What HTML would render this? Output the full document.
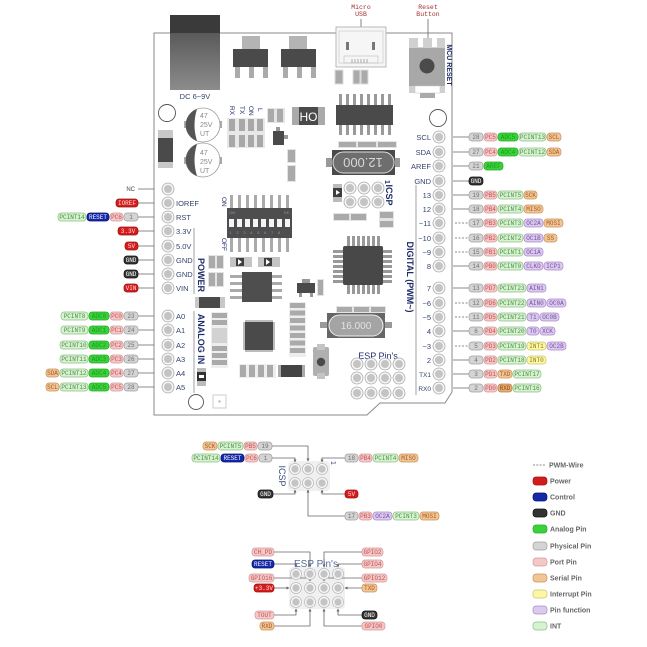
<!DOCTYPE html>
<html><head><meta charset="utf-8"><style>
html,body{margin:0;padding:0;background:#fff}
svg{display:block}
.P text{font-family:"Liberation Mono",monospace;font-size:6px;text-anchor:middle}
.P rect{stroke-width:.7}
rect.g{fill:#d4d4d4;stroke:#a0a0a0} text.g{fill:#707070}
rect.p{fill:#f5c8c8;stroke:#d09a9a} text.p{fill:#c05050}
rect.a{fill:#3ad23a;stroke:#28a828} text.a{fill:#1c9a1c}
rect.i{fill:#d6f2cf;stroke:#8cc084} text.i{fill:#4c8c4c}
rect.s{fill:#f2c596;stroke:#c8925a} text.s{fill:#a45a20}
rect.t{fill:#e6ad72;stroke:#b8804a} text.t{fill:#8a4a18}
rect.y{fill:#fbf7a2;stroke:#ccc470} text.y{fill:#8a7a24}
rect.f{fill:#dcc9ee;stroke:#a98bc9} text.f{fill:#7452a0}
rect.r{fill:#d41c1c;stroke:#9a1010} text.r{fill:#ffe0e0}
rect.b{fill:#1428aa;stroke:#0a1570} text.b{fill:#fff}
rect.k{fill:#333;stroke:#111} text.k{fill:#fff}
.lab{font-family:"Liberation Sans",sans-serif;font-size:7.5px;fill:#34446e}
.nav{font-family:"Liberation Sans",sans-serif;font-weight:bold;fill:#1e2d6a}
.nw{font-family:"Liberation Sans",sans-serif;font-weight:normal;fill:#1e2d6a}
.ln{stroke:#666;stroke-width:.8;fill:none}
.dl{stroke:#666;stroke-width:.8;stroke-dasharray:2 1.5;fill:none}
.leg{font-family:"Liberation Sans",sans-serif;font-size:7px;font-weight:bold;fill:#666}
</style></head><body>
<svg width="647" height="647" viewBox="0 0 647 647" xmlns="http://www.w3.org/2000/svg">
<defs>
<linearGradient id="dc" x1="0" y1="0" x2="0" y2="1"><stop offset="0" stop-color="#4a4a4a"/><stop offset="1" stop-color="#8c8c8c"/></linearGradient>
<g id="pin"><circle r="6" fill="#f6f6f6" stroke="#aaa" stroke-width=".8"/><circle r="4" fill="#c4c4c4"/></g>
<g id="spin"><circle r="5.5" fill="#fafafa" stroke="#bbb" stroke-width=".8"/><circle r="3.7" fill="#c4c4c4"/></g>
<marker id="ar" viewBox="0 0 6 6" refX="5" refY="3" markerWidth="4" markerHeight="4" orient="auto"><path d="M0,0L6,3L0,6z" fill="#666"/></marker>
</defs>

<!-- board outline -->
<path d="M154,33 H452 V392 L445,403 H380 L367,415 H154 Z" fill="#fff" stroke="#8a8a8a" stroke-width="1"/>

<!-- DC jack -->
<rect x="170" y="15" width="50" height="75" fill="url(#dc)"/>
<rect x="170" y="15" width="50" height="18" fill="#3a3a3a"/>
<text x="195" y="99" class="lab" font-size="7" text-anchor="middle">DC 6~9V</text>

<!-- regulators -->
<rect x="242" y="36" width="18" height="13" fill="#b4b4b4"/>
<rect x="233" y="49" width="35" height="18" fill="#4a4a4a"/>
<rect x="235" y="67" width="5" height="11" fill="#aaa"/><rect x="249" y="67" width="5" height="11" fill="#aaa"/><rect x="263" y="67" width="5" height="11" fill="#aaa"/>
<rect x="289" y="36" width="18" height="13" fill="#b4b4b4"/>
<rect x="281" y="49" width="35" height="18" fill="#4a4a4a"/>
<rect x="283" y="67" width="5" height="11" fill="#aaa"/><rect x="297" y="67" width="5" height="11" fill="#aaa"/><rect x="311" y="67" width="5" height="11" fill="#aaa"/>

<!-- micro USB -->
<text x="361" y="9" font-family="Liberation Mono,monospace" font-size="6.5" fill="#a03030" text-anchor="middle">Micro</text>
<text x="361" y="16" font-family="Liberation Mono,monospace" font-size="6.5" fill="#a03030" text-anchor="middle">USB</text>
<line x1="361" y1="19" x2="361" y2="27" class="ln"/>
<rect x="336" y="27" width="50" height="40" fill="#f6f6f6" stroke="#aaa" stroke-width=".8"/>
<rect x="339" y="31" width="44" height="32" fill="none" stroke="#ccc" stroke-width=".7"/>
<rect x="346" y="42" width="3" height="8" fill="#777"/><rect x="372" y="42" width="3" height="8" fill="#777"/>
<rect x="344" y="56" width="34" height="7" fill="none" stroke="#bbb" stroke-width=".6"/>
<path d="M352,59v4M355,59v4M358,59v4M361,59v4M364,59v4M367,59v4" stroke="#999" stroke-width=".8"/>
<rect x="335" y="70" width="8" height="14" fill="#aaa" stroke="#ddd"/>
<rect x="353" y="70" width="7" height="14" fill="#aaa" stroke="#ddd"/>
<rect x="361" y="70" width="7" height="14" fill="#aaa" stroke="#ddd"/>

<!-- Reset button -->
<text x="428" y="9" font-family="Liberation Mono,monospace" font-size="6.5" fill="#a03030" text-anchor="middle">Reset</text>
<text x="428" y="16" font-family="Liberation Mono,monospace" font-size="6.5" fill="#a03030" text-anchor="middle">Button</text>
<line x1="428" y1="19" x2="428" y2="38" class="ln"/>
<rect x="409" y="38" width="36" height="55" fill="#d0d0d0"/>
<rect x="418" y="38" width="5" height="9" fill="#fff"/><rect x="432" y="38" width="5" height="9" fill="#fff"/>
<rect x="409" y="48" width="36" height="38" fill="#a8a8a8"/>
<circle cx="427" cy="66" r="7.5" fill="#4a4a4a"/>
<rect x="415" y="86" width="25" height="7" fill="#fff" stroke="#ccc" stroke-width=".6"/>
<rect x="420" y="93" width="15" height="5" fill="#aaa"/>
<text transform="translate(447,65) rotate(90)" class="nav" font-size="7" text-anchor="middle">MCU RESET</text>

<!-- mount holes -->
<circle cx="167" cy="113" r="8.5" fill="#fff" stroke="#555" stroke-width=".9"/>
<circle cx="438" cy="118" r="8.5" fill="#fff" stroke="#555" stroke-width=".9"/>
<circle cx="196" cy="402" r="7.5" fill="#fff" stroke="#555" stroke-width=".9"/>
<rect x="213" y="395" width="13" height="13" fill="#fff" stroke="#ccc"/><circle cx="219.5" cy="401.5" r="1.2" fill="#bbb"/>

<!-- black rect left -->
<rect x="158" y="130" width="15" height="38" fill="#c8c8c8"/>
<rect x="158" y="138" width="15" height="24" fill="#4a4a4a"/>

<!-- capacitors -->
<rect x="184" y="121" width="4" height="7" fill="#aaa"/><rect x="218" y="121" width="4" height="7" fill="#aaa"/>
<circle cx="203" cy="125" r="17" fill="#fff" stroke="#999" stroke-width=".8"/>
<path d="M197,109 A17,17 0 0 0 197,141 Q192,125 197,109Z" fill="#555"/>
<text x="200" y="118" font-family="Liberation Sans,sans-serif" font-size="7" fill="#888">47</text>
<text x="200" y="127" font-family="Liberation Sans,sans-serif" font-size="7" fill="#888">25V</text>
<text x="200" y="136" font-family="Liberation Sans,sans-serif" font-size="7" fill="#888">UT</text>
<rect x="184" y="157" width="4" height="7" fill="#aaa"/><rect x="218" y="157" width="4" height="7" fill="#aaa"/>
<circle cx="203" cy="160" r="17" fill="#fff" stroke="#999" stroke-width=".8"/>
<path d="M197,144 A17,17 0 0 0 197,176 Q192,160 197,144Z" fill="#555"/>
<text x="200" y="155" font-family="Liberation Sans,sans-serif" font-size="7" fill="#888">47</text>
<text x="200" y="164" font-family="Liberation Sans,sans-serif" font-size="7" fill="#888">25V</text>
<text x="200" y="173" font-family="Liberation Sans,sans-serif" font-size="7" fill="#888">UT</text>

<!-- LEDs -->
<text transform="translate(230,106) rotate(90)" class="nw" font-size="6.5">RX</text>
<text transform="translate(240,106) rotate(90)" class="nw" font-size="6.5">TX</text>
<text transform="translate(249,106) rotate(90)" class="nw" font-size="6.5">ON</text>
<text transform="translate(258,108) rotate(90)" class="nw" font-size="6.5">L</text>
<rect x="227" y="118" width="38" height="30" fill="#e8e8e8"/>
<g fill="#a8a8a8"><rect x="229" y="119" width="6" height="12"/><rect x="239" y="119" width="6" height="12"/><rect x="248" y="119" width="6" height="12"/><rect x="257" y="119" width="6" height="12"/>
<rect x="229" y="135" width="6" height="12"/><rect x="239" y="135" width="6" height="12"/><rect x="248" y="135" width="6" height="12"/><rect x="257" y="135" width="6" height="12"/></g>
<rect x="267" y="108" width="18" height="15" fill="#e4e4e4"/><rect x="268" y="109" width="6" height="13" fill="#aaa"/><rect x="277" y="109" width="6" height="13" fill="#aaa"/>
<rect x="292" y="107" width="33" height="18" fill="#aaa"/><rect x="299" y="107" width="19" height="18" fill="#4a4a4a"/>
<text x="308.5" y="121" font-family="Liberation Sans,sans-serif" font-size="12" fill="#fff" text-anchor="middle">HO</text>
<rect x="276" y="127" width="4" height="4" fill="#999"/>
<rect x="273" y="131" width="11" height="14" fill="#4a4a4a"/>
<rect x="284" y="135" width="4" height="4" fill="#999"/>
<rect x="287" y="149" width="9" height="14" fill="#e4e4e4"/><rect x="288" y="150" width="7" height="12" fill="#aaa"/>
<rect x="287" y="165" width="9" height="17" fill="#e4e4e4"/><rect x="288" y="166" width="7" height="15" fill="#aaa"/>

<!-- USB-serial chip -->
<g fill="#9a9a9a"><rect x="339" y="94" width="3" height="11"/><rect x="346" y="94" width="3" height="11"/><rect x="353" y="94" width="3" height="11"/><rect x="360" y="94" width="3" height="11"/><rect x="367" y="94" width="3" height="11"/><rect x="374" y="94" width="3" height="11"/><rect x="381" y="94" width="3" height="11"/><rect x="388" y="94" width="3" height="11"/>
<rect x="339" y="125" width="3" height="10"/><rect x="346" y="125" width="3" height="10"/><rect x="353" y="125" width="3" height="10"/><rect x="360" y="125" width="3" height="10"/><rect x="367" y="125" width="3" height="10"/><rect x="374" y="125" width="3" height="10"/><rect x="381" y="125" width="3" height="10"/><rect x="388" y="125" width="3" height="10"/></g>
<rect x="336" y="105" width="57" height="20" fill="#4a4a4a"/>
<rect x="338" y="141" width="59" height="7" fill="#e4e4e4"/>
<g fill="#aaa"><rect x="339" y="142" width="17" height="5"/><rect x="358" y="142" width="18" height="5"/><rect x="378" y="142" width="18" height="5"/></g>

<!-- crystal 12.000 -->
<rect x="326" y="158" width="74" height="9" fill="#999"/>
<rect x="332" y="150" width="63" height="25" fill="#4a4a4a"/>
<rect x="333" y="152" width="61" height="21" rx="10.5" fill="#6e6e6e" stroke="#ddd" stroke-width="1"/>
<text transform="translate(363,162.5) rotate(180)" font-family="Liberation Sans,sans-serif" font-size="13" fill="#d8d8d8" text-anchor="middle" dominant-baseline="central">12.000</text>

<!-- ICSP on board -->
<rect x="333" y="184" width="9" height="18" fill="#bbb"/><rect x="333" y="188" width="9" height="9" fill="#3e3e3e"/><path d="M336,190 L340,192.5 L336,195Z" fill="#fff"/>
<use href="#pin" x="350" y="188"/><use href="#pin" x="364" y="188"/><use href="#pin" x="378" y="188"/>
<use href="#pin" x="350" y="202"/><use href="#pin" x="364" y="202"/><use href="#pin" x="378" y="202"/>
<text transform="translate(385,180) rotate(90)" class="nav" font-size="7">1</text>
<text transform="translate(386,195) rotate(90)" class="nav" font-size="9" text-anchor="middle">ICSP</text>
<rect x="333" y="213" width="34" height="8" fill="#e4e4e4"/><rect x="334" y="214" width="15" height="6" fill="#aaa"/><rect x="351" y="214" width="15" height="6" fill="#aaa"/>
<rect x="379" y="211" width="15" height="17" fill="#e4e4e4"/><rect x="380" y="212" width="13" height="6" fill="#aaa"/><rect x="380" y="221" width="13" height="6" fill="#aaa"/>

<!-- DIP switch -->
<g fill="#aaa"><rect x="230" y="195" width="3" height="13"/><rect x="238" y="195" width="3" height="13"/><rect x="246" y="195" width="3" height="13"/><rect x="254" y="195" width="3" height="13"/><rect x="262" y="195" width="3" height="13"/><rect x="270" y="195" width="3" height="13"/><rect x="278" y="195" width="3" height="13"/><rect x="286" y="195" width="3" height="13"/>
<rect x="230" y="238" width="3" height="14"/><rect x="238" y="238" width="3" height="14"/><rect x="246" y="238" width="3" height="14"/><rect x="254" y="238" width="3" height="14"/><rect x="262" y="238" width="3" height="14"/><rect x="270" y="238" width="3" height="14"/><rect x="278" y="238" width="3" height="14"/><rect x="286" y="238" width="3" height="14"/></g>
<rect x="227" y="208" width="65" height="30" fill="#4e4e4e"/>
<g fill="#f4f4f4"><rect x="229" y="219" width="5" height="8"/><rect x="237" y="219" width="5" height="8"/><rect x="245" y="219" width="5" height="8"/><rect x="253" y="219" width="5" height="8"/><rect x="261" y="219" width="5" height="8"/><rect x="269" y="219" width="5" height="8"/><rect x="277" y="219" width="5" height="8"/><rect x="285" y="219" width="5" height="8"/></g>
<text x="229" y="214" font-family="Liberation Sans,sans-serif" font-size="4" fill="#8890c0">ON</text>
<text x="284" y="214" font-family="Liberation Sans,sans-serif" font-size="4" fill="#8890c0">KE</text>
<text x="229.5" y="234" font-family="Liberation Sans,sans-serif" font-size="4" fill="#8890c0" letter-spacing="4.7">12345678</text>
<text transform="translate(222,197) rotate(90)" class="nw" font-size="6.5">ON</text>
<text transform="translate(222,238) rotate(90)" class="nw" font-size="6.5">OFF</text>

<!-- POWER / ANALOG brackets -->
<line x1="194" y1="228" x2="194" y2="294" stroke="#888" stroke-width=".8"/>
<text transform="translate(198,275) rotate(90)" class="nav" font-size="9" text-anchor="middle">POWER</text>
<rect x="195" y="297" width="30" height="11" fill="#c8c8c8"/><rect x="199" y="297" width="21" height="11" fill="#4a4a4a"/>
<line x1="194" y1="311" x2="194" y2="393" stroke="#888" stroke-width=".8"/>
<text transform="translate(198,339) rotate(90)" class="nav" font-size="9" text-anchor="middle">ANALOG IN</text>
<rect x="197" y="368" width="9" height="18" fill="#bbb"/><rect x="197" y="372" width="9" height="9" fill="#333"/><rect x="199" y="375" width="5" height="3" fill="#fff"/>

<!-- small parts near power -->
<rect x="208" y="255" width="16" height="14" fill="#e4e4e4"/><rect x="209" y="256" width="6" height="12" fill="#aaa"/><rect x="217" y="256" width="6" height="12" fill="#aaa"/>
<rect x="208" y="272" width="16" height="15" fill="#e4e4e4"/><rect x="209" y="273" width="6" height="13" fill="#aaa"/><rect x="217" y="273" width="6" height="13" fill="#aaa"/>
<rect x="230" y="257" width="22" height="10" fill="#c4c4c4"/><rect x="236" y="258" width="8" height="8" fill="#3e3e3e"/><path d="M238,259 L242,262 L238,265Z" fill="#fff"/>
<rect x="258" y="257" width="22" height="10" fill="#c4c4c4"/><rect x="264" y="258" width="8" height="8" fill="#3e3e3e"/><path d="M266,259 L270,262 L266,265Z" fill="#fff"/>
<g fill="#aaa"><rect x="230" y="275" width="12" height="3"/><rect x="230" y="282" width="12" height="3"/><rect x="230" y="289" width="12" height="3"/><rect x="230" y="296" width="12" height="3"/>
<rect x="272" y="275" width="10" height="3"/><rect x="272" y="282" width="10" height="3"/><rect x="272" y="289" width="10" height="3"/><rect x="272" y="296" width="10" height="3"/></g>
<rect x="242" y="272" width="30" height="30" fill="#4e4e4e"/>
<rect x="302" y="279" width="8" height="4" fill="#999"/>
<rect x="297" y="283" width="18" height="10" fill="#4a4a4a"/>
<rect x="299" y="293" width="3" height="4" fill="#999"/><rect x="310" y="293" width="3" height="4" fill="#999"/>
<rect x="317" y="279" width="7" height="17" fill="#e4e4e4"/><rect x="318" y="280" width="5" height="15" fill="#aaa"/>

<!-- MCU -->
<g fill="#999">
<rect x="347" y="236" width="3" height="10"/><rect x="352" y="236" width="3" height="10"/><rect x="357" y="236" width="3" height="10"/><rect x="362" y="236" width="3" height="10"/><rect x="367" y="236" width="3" height="10"/><rect x="372" y="236" width="3" height="10"/><rect x="377" y="236" width="3" height="10"/>
<rect x="347" y="285" width="3" height="9"/><rect x="352" y="285" width="3" height="9"/><rect x="357" y="285" width="3" height="9"/><rect x="362" y="285" width="3" height="9"/><rect x="367" y="285" width="3" height="9"/><rect x="372" y="285" width="3" height="9"/><rect x="377" y="285" width="3" height="9"/>
<rect x="333" y="250" width="10" height="3"/><rect x="333" y="255" width="10" height="3"/><rect x="333" y="260" width="10" height="3"/><rect x="333" y="265" width="10" height="3"/><rect x="333" y="270" width="10" height="3"/><rect x="333" y="275" width="10" height="3"/><rect x="333" y="280" width="10" height="3"/>
<rect x="383" y="250" width="9" height="3"/><rect x="383" y="255" width="9" height="3"/><rect x="383" y="260" width="9" height="3"/><rect x="383" y="265" width="9" height="3"/><rect x="383" y="270" width="9" height="3"/><rect x="383" y="275" width="9" height="3"/><rect x="383" y="280" width="9" height="3"/></g>
<rect x="343" y="246" width="40" height="39" rx="2" fill="#484848"/>

<!-- crystal 16.000 -->
<rect x="336" y="306" width="50" height="7" fill="#e4e4e4"/>
<g fill="#aaa"><rect x="337" y="307" width="15" height="5"/><rect x="354" y="307" width="15" height="5"/><rect x="371" y="307" width="14" height="5"/></g>
<rect x="320" y="322" width="72" height="6" fill="#999"/>
<rect x="327" y="313" width="58" height="25" fill="#666"/>
<rect x="329" y="315" width="54" height="21" rx="10.5" fill="#a4a4a4" stroke="#eee" stroke-width="1"/>
<text x="356" y="329" font-family="Liberation Sans,sans-serif" font-size="10" fill="#e2e2e2" text-anchor="middle">16.000</text>

<!-- small QFP -->
<rect x="245" y="322" width="28" height="28" fill="#4a4a4a"/>
<rect x="245" y="320" width="28" height="2" fill="#bbb"/><rect x="245" y="350" width="28" height="2" fill="#bbb"/>
<rect x="243" y="322" width="2" height="28" fill="#bbb"/><rect x="273" y="322" width="2" height="28" fill="#bbb"/>

<!-- vertical stacks -->
<rect x="289" y="302" width="17" height="55" fill="#eee"/>
<g fill="#aaa"><rect x="290" y="303" width="15" height="5"/><rect x="290" y="310.5" width="15" height="5"/><rect x="290" y="318" width="15" height="5"/><rect x="290" y="325.5" width="15" height="5"/><rect x="290" y="333" width="15" height="5"/><rect x="290" y="340.5" width="15" height="5"/><rect x="290" y="348" width="15" height="5"/></g>
<rect x="211" y="312" width="17" height="56" fill="#eee"/>
<g fill="#aaa"><rect x="212" y="313" width="15" height="5"/><rect x="212" y="320" width="15" height="5"/><rect x="212" y="346" width="15" height="5"/><rect x="212" y="353" width="15" height="5"/><rect x="212" y="360" width="15" height="5"/></g>
<rect x="212" y="328" width="15" height="15" fill="#d2d2d2"/>
<rect x="239" y="364" width="37" height="14" fill="#eee"/>
<g fill="#aaa"><rect x="240" y="365" width="6" height="12"/><rect x="249" y="365" width="6" height="12"/><rect x="258" y="365" width="6" height="12"/><rect x="267" y="365" width="6" height="12"/></g>
<rect x="278" y="365" width="27" height="12" fill="#aaa"/><rect x="281" y="365" width="21" height="12" fill="#444"/>
<rect x="313" y="347" width="16" height="29" rx="2" fill="#b0b0b0"/>
<rect x="317" y="344" width="8" height="35" fill="#c4c4c4"/>
<rect x="313" y="350" width="16" height="23" rx="2" fill="#b0b0b0"/>
<circle cx="321" cy="362" r="4.2" fill="#4a4a4a"/>

<!-- ESP pins on board -->
<text x="378" y="359" class="nw" font-size="9" text-anchor="middle">ESP Pin's</text>
<use href="#pin" x="357" y="364"/><use href="#pin" x="371" y="364"/><use href="#pin" x="385" y="364"/><use href="#pin" x="399" y="364"/>
<use href="#pin" x="357" y="378"/><use href="#pin" x="371" y="378"/><use href="#pin" x="385" y="378"/><use href="#pin" x="399" y="378"/>
<use href="#pin" x="357" y="393"/><use href="#pin" x="371" y="393"/><use href="#pin" x="385" y="393"/><use href="#pin" x="399" y="393"/>

<!-- DIGITAL bracket -->
<line x1="416" y1="185" x2="416" y2="395" stroke="#888" stroke-width=".8"/>
<text transform="translate(407,277) rotate(90)" class="nav" font-size="9" text-anchor="middle">DIGITAL  (PWM~)</text>

<!-- left header pins -->
<use href="#pin" x="168" y="189"/><use href="#pin" x="168" y="203"/><use href="#pin" x="168" y="217"/><use href="#pin" x="168" y="231"/>
<use href="#pin" x="168" y="246"/><use href="#pin" x="168" y="260"/><use href="#pin" x="168" y="274"/><use href="#pin" x="168" y="288"/>
<use href="#pin" x="168" y="316"/><use href="#pin" x="168" y="330"/><use href="#pin" x="168" y="345"/><use href="#pin" x="168" y="359"/>
<use href="#pin" x="168" y="373"/><use href="#pin" x="168" y="387"/>
<g class="lab">
<text x="176" y="206">IOREF</text><text x="176" y="220">RST</text><text x="176" y="234">3.3V</text><text x="176" y="249">5.0V</text>
<text x="176" y="263">GND</text><text x="176" y="277">GND</text><text x="176" y="291">VIN</text>
<text x="176" y="319">A0</text><text x="176" y="333">A1</text><text x="176" y="348">A2</text><text x="176" y="362">A3</text><text x="176" y="376">A4</text><text x="176" y="390">A5</text>
</g>

<!-- right header pins -->
<use href="#pin" x="439" y="137"/><use href="#pin" x="439" y="152"/><use href="#pin" x="439" y="166"/><use href="#pin" x="439" y="181"/>
<use href="#pin" x="439" y="195"/><use href="#pin" x="439" y="209"/><use href="#pin" x="439" y="223"/><use href="#pin" x="439" y="238"/>
<use href="#pin" x="439" y="252"/><use href="#pin" x="439" y="266"/>
<use href="#pin" x="439" y="288"/><use href="#pin" x="439" y="303"/><use href="#pin" x="439" y="317"/><use href="#pin" x="439" y="331"/>
<use href="#pin" x="439" y="346"/><use href="#pin" x="439" y="360"/><use href="#pin" x="439" y="374"/><use href="#pin" x="439" y="388"/>
<g class="lab" text-anchor="end">
<text x="431" y="140">SCL</text><text x="431" y="155">SDA</text><text x="431" y="169">AREF</text><text x="431" y="184">GND</text>
<text x="431" y="198">13</text><text x="431" y="212">12</text><text x="431" y="226">~11</text><text x="431" y="241">~10</text>
<text x="431" y="255">~9</text><text x="431" y="269">8</text>
<text x="431" y="291">7</text><text x="431" y="306">~6</text><text x="431" y="320">~5</text><text x="431" y="334">4</text>
<text x="431" y="349">~3</text><text x="431" y="363">2</text><text x="431" y="377" font-size="6.5">TX1</text><text x="431" y="391" font-size="6.5">RX0</text>
</g>

<!-- left connectors -->
<g class="ln">
<path d="M138,189H154M138,203H154M138,217H154M138,231H154M138,246H154M138,260H154M138,274H154M138,288H154M138,316H154M138,330H154M138,345H154M138,359H154M138,373H154M138,387H154"/>
</g>
<text x="135" y="191" font-family="Liberation Sans,sans-serif" font-size="6" fill="#444" text-anchor="end">NC</text>

<!-- right connectors -->
<path class="ln" d="M453,137H469M453,152H469M453,166H469M453,181H469M453,195H469M453,209H469M453,266H469M453,288H469M453,331H469M453,360H469M453,374H469M453,388H469"/>
<path class="dl" d="M455,223H469M455,238H469M455,252H469M455,303H469M455,317H469M455,346H469"/>

<!-- left pills -->
<g class="P">
<rect class="r" x="116" y="199" width="22" height="8" rx="3"/><text class="r" x="127" y="205">IOREF</text>
<rect class="i" x="58" y="213" width="28" height="8" rx="3"/><text class="i" x="72" y="219">PCINT14</text>
<rect class="b" x="87" y="213" width="22" height="8" rx="3"/><text class="b" x="98" y="219">RESET</text>
<rect class="p" x="110" y="213" width="13" height="8" rx="3"/><text class="p" x="116.5" y="219">PC6</text>
<rect class="g" x="124" y="213" width="14" height="8" rx="3"/><text class="g" x="131" y="219">1</text>
<rect class="r" x="118" y="227" width="20" height="8" rx="3"/><text class="r" x="128" y="233">3.3V</text>
<rect class="r" x="125" y="242" width="13" height="8" rx="3"/><text class="r" x="131.5" y="248">5V</text>
<rect class="k" x="124" y="256" width="14" height="8" rx="3"/><text class="k" x="131" y="262">GND</text>
<rect class="k" x="124" y="270" width="14" height="8" rx="3"/><text class="k" x="131" y="276">GND</text>
<rect class="r" x="124" y="284" width="14" height="8" rx="3"/><text class="r" x="131" y="290">VIN</text>

<rect class="i" x="61" y="312" width="27" height="8" rx="3"/><text class="i" x="74.5" y="318">PCINT8</text>
<rect class="a" x="89" y="312" width="20" height="8" rx="3"/><text class="a" x="99" y="318">ADC0</text>
<rect class="p" x="110" y="312" width="13" height="8" rx="3"/><text class="p" x="116.5" y="318">PC0</text>
<rect class="g" x="124" y="312" width="14" height="8" rx="3"/><text class="g" x="131" y="318">23</text>

<rect class="i" x="61" y="326" width="27" height="8" rx="3"/><text class="i" x="74.5" y="332">PCINT9</text>
<rect class="a" x="89" y="326" width="20" height="8" rx="3"/><text class="a" x="99" y="332">ADC1</text>
<rect class="p" x="110" y="326" width="13" height="8" rx="3"/><text class="p" x="116.5" y="332">PC1</text>
<rect class="g" x="124" y="326" width="14" height="8" rx="3"/><text class="g" x="131" y="332">24</text>

<rect class="i" x="60" y="341" width="28" height="8" rx="3"/><text class="i" x="74" y="347">PCINT10</text>
<rect class="a" x="89" y="341" width="20" height="8" rx="3"/><text class="a" x="99" y="347">ADC2</text>
<rect class="p" x="110" y="341" width="13" height="8" rx="3"/><text class="p" x="116.5" y="347">PC2</text>
<rect class="g" x="124" y="341" width="14" height="8" rx="3"/><text class="g" x="131" y="347">25</text>

<rect class="i" x="60" y="355" width="28" height="8" rx="3"/><text class="i" x="74" y="361">PCINT11</text>
<rect class="a" x="89" y="355" width="20" height="8" rx="3"/><text class="a" x="99" y="361">ADC3</text>
<rect class="p" x="110" y="355" width="13" height="8" rx="3"/><text class="p" x="116.5" y="361">PC3</text>
<rect class="g" x="124" y="355" width="14" height="8" rx="3"/><text class="g" x="131" y="361">26</text>

<rect class="s" x="46" y="369" width="13" height="8" rx="3"/><text class="s" x="52.5" y="375">SDA</text>
<rect class="i" x="60" y="369" width="28" height="8" rx="3"/><text class="i" x="74" y="375">PCINT12</text>
<rect class="a" x="89" y="369" width="20" height="8" rx="3"/><text class="a" x="99" y="375">ADC4</text>
<rect class="p" x="110" y="369" width="13" height="8" rx="3"/><text class="p" x="116.5" y="375">PC4</text>
<rect class="g" x="124" y="369" width="14" height="8" rx="3"/><text class="g" x="131" y="375">27</text>

<rect class="s" x="46" y="383" width="13" height="8" rx="3"/><text class="s" x="52.5" y="389">SCL</text>
<rect class="i" x="60" y="383" width="28" height="8" rx="3"/><text class="i" x="74" y="389">PCINT13</text>
<rect class="a" x="89" y="383" width="20" height="8" rx="3"/><text class="a" x="99" y="389">ADC5</text>
<rect class="p" x="110" y="383" width="13" height="8" rx="3"/><text class="p" x="116.5" y="389">PC5</text>
<rect class="g" x="124" y="383" width="14" height="8" rx="3"/><text class="g" x="131" y="389">28</text>
</g>

<!-- right pills -->
<g class="P">
<rect class="g" x="469" y="133" width="14" height="8" rx="3"/><text class="g" x="476" y="139">28</text>
<rect class="p" x="484" y="133" width="13" height="8" rx="3"/><text class="p" x="490.5" y="139">PC5</text>
<rect class="a" x="498" y="133" width="20" height="8" rx="3"/><text class="a" x="508" y="139">ADC5</text>
<rect class="i" x="519" y="133" width="27" height="8" rx="3"/><text class="i" x="532.5" y="139">PCINT13</text>
<rect class="s" x="547" y="133" width="14" height="8" rx="3"/><text class="s" x="554" y="139">SCL</text>

<rect class="g" x="469" y="148" width="14" height="8" rx="3"/><text class="g" x="476" y="154">27</text>
<rect class="p" x="484" y="148" width="13" height="8" rx="3"/><text class="p" x="490.5" y="154">PC4</text>
<rect class="a" x="498" y="148" width="20" height="8" rx="3"/><text class="a" x="508" y="154">ADC4</text>
<rect class="i" x="519" y="148" width="27" height="8" rx="3"/><text class="i" x="532.5" y="154">PCINT12</text>
<rect class="s" x="547" y="148" width="14" height="8" rx="3"/><text class="s" x="554" y="154">SDA</text>

<rect class="g" x="469" y="162" width="14" height="8" rx="3"/><text class="g" x="476" y="168">21</text>
<rect class="a" x="484" y="162" width="19" height="8" rx="3"/><text class="a" x="493.5" y="168">AREF</text>

<rect class="k" x="469" y="177" width="14" height="8" rx="3"/><text class="k" x="476" y="183">GND</text>

<rect class="g" x="469" y="191" width="14" height="8" rx="3"/><text class="g" x="476" y="197">19</text>
<rect class="p" x="484" y="191" width="13" height="8" rx="3"/><text class="p" x="490.5" y="197">PB5</text>
<rect class="i" x="498" y="191" width="25" height="8" rx="3"/><text class="i" x="510.5" y="197">PCINT5</text>
<rect class="s" x="524" y="191" width="13" height="8" rx="3"/><text class="s" x="530.5" y="197">SCK</text>

<rect class="g" x="469" y="205" width="14" height="8" rx="3"/><text class="g" x="476" y="211">18</text>
<rect class="p" x="484" y="205" width="13" height="8" rx="3"/><text class="p" x="490.5" y="211">PB4</text>
<rect class="i" x="498" y="205" width="25" height="8" rx="3"/><text class="i" x="510.5" y="211">PCINT4</text>
<rect class="s" x="524" y="205" width="19" height="8" rx="3"/><text class="s" x="533.5" y="211">MISO</text>

<rect class="g" x="469" y="219" width="14" height="8" rx="3"/><text class="g" x="476" y="225">17</text>
<rect class="p" x="484" y="219" width="13" height="8" rx="3"/><text class="p" x="490.5" y="225">PB3</text>
<rect class="i" x="498" y="219" width="25" height="8" rx="3"/><text class="i" x="510.5" y="225">PCINT3</text>
<rect class="f" x="524" y="219" width="19" height="8" rx="3"/><text class="f" x="533.5" y="225">OC2A</text>
<rect class="s" x="544" y="219" width="19" height="8" rx="3"/><text class="s" x="553.5" y="225">MOSI</text>

<rect class="g" x="469" y="234" width="14" height="8" rx="3"/><text class="g" x="476" y="240">16</text>
<rect class="p" x="484" y="234" width="13" height="8" rx="3"/><text class="p" x="490.5" y="240">PB2</text>
<rect class="i" x="498" y="234" width="25" height="8" rx="3"/><text class="i" x="510.5" y="240">PCINT2</text>
<rect class="f" x="524" y="234" width="19" height="8" rx="3"/><text class="f" x="533.5" y="240">OC1B</text>
<rect class="s" x="544" y="234" width="13" height="8" rx="3"/><text class="s" x="550.5" y="240">SS</text>

<rect class="g" x="469" y="248" width="14" height="8" rx="3"/><text class="g" x="476" y="254">15</text>
<rect class="p" x="484" y="248" width="13" height="8" rx="3"/><text class="p" x="490.5" y="254">PB1</text>
<rect class="i" x="498" y="248" width="25" height="8" rx="3"/><text class="i" x="510.5" y="254">PCINT1</text>
<rect class="f" x="524" y="248" width="19" height="8" rx="3"/><text class="f" x="533.5" y="254">OC1A</text>

<rect class="g" x="469" y="262" width="14" height="8" rx="3"/><text class="g" x="476" y="268">14</text>
<rect class="p" x="484" y="262" width="13" height="8" rx="3"/><text class="p" x="490.5" y="268">PB0</text>
<rect class="i" x="498" y="262" width="25" height="8" rx="3"/><text class="i" x="510.5" y="268">PCINT0</text>
<rect class="f" x="524" y="262" width="19" height="8" rx="3"/><text class="f" x="533.5" y="268">CLKO</text>
<rect class="f" x="544" y="262" width="19" height="8" rx="3"/><text class="f" x="553.5" y="268">ICP1</text>

<rect class="g" x="469" y="284" width="14" height="8" rx="3"/><text class="g" x="476" y="290">13</text>
<rect class="p" x="484" y="284" width="13" height="8" rx="3"/><text class="p" x="490.5" y="290">PD7</text>
<rect class="i" x="498" y="284" width="28" height="8" rx="3"/><text class="i" x="512" y="290">PCINT23</text>
<rect class="f" x="527" y="284" width="19" height="8" rx="3"/><text class="f" x="536.5" y="290">AIN1</text>

<rect class="g" x="469" y="299" width="14" height="8" rx="3"/><text class="g" x="476" y="305">12</text>
<rect class="p" x="484" y="299" width="13" height="8" rx="3"/><text class="p" x="490.5" y="305">PD6</text>
<rect class="i" x="498" y="299" width="28" height="8" rx="3"/><text class="i" x="512" y="305">PCINT22</text>
<rect class="f" x="527" y="299" width="19" height="8" rx="3"/><text class="f" x="536.5" y="305">AIN0</text>
<rect class="f" x="547" y="299" width="19" height="8" rx="3"/><text class="f" x="556.5" y="305">OC0A</text>

<rect class="g" x="469" y="313" width="14" height="8" rx="3"/><text class="g" x="476" y="319">11</text>
<rect class="p" x="484" y="313" width="13" height="8" rx="3"/><text class="p" x="490.5" y="319">PD5</text>
<rect class="i" x="498" y="313" width="28" height="8" rx="3"/><text class="i" x="512" y="319">PCINT21</text>
<rect class="f" x="527" y="313" width="12" height="8" rx="3"/><text class="f" x="533" y="319">T1</text>
<rect class="f" x="540" y="313" width="19" height="8" rx="3"/><text class="f" x="549.5" y="319">OC0B</text>

<rect class="g" x="469" y="327" width="14" height="8" rx="3"/><text class="g" x="476" y="333">6</text>
<rect class="p" x="484" y="327" width="13" height="8" rx="3"/><text class="p" x="490.5" y="333">PD4</text>
<rect class="i" x="498" y="327" width="28" height="8" rx="3"/><text class="i" x="512" y="333">PCINT20</text>
<rect class="f" x="527" y="327" width="12" height="8" rx="3"/><text class="f" x="533" y="333">T0</text>
<rect class="f" x="540" y="327" width="15" height="8" rx="3"/><text class="f" x="547.5" y="333">XCK</text>

<rect class="g" x="469" y="342" width="14" height="8" rx="3"/><text class="g" x="476" y="348">5</text>
<rect class="p" x="484" y="342" width="13" height="8" rx="3"/><text class="p" x="490.5" y="348">PD3</text>
<rect class="i" x="498" y="342" width="28" height="8" rx="3"/><text class="i" x="512" y="348">PCINT19</text>
<rect class="y" x="527" y="342" width="19" height="8" rx="3"/><text class="y" x="536.5" y="348">INT1</text>
<rect class="f" x="547" y="342" width="19" height="8" rx="3"/><text class="f" x="556.5" y="348">OC2B</text>

<rect class="g" x="469" y="356" width="14" height="8" rx="3"/><text class="g" x="476" y="362">4</text>
<rect class="p" x="484" y="356" width="13" height="8" rx="3"/><text class="p" x="490.5" y="362">PD2</text>
<rect class="i" x="498" y="356" width="28" height="8" rx="3"/><text class="i" x="512" y="362">PCINT18</text>
<rect class="y" x="527" y="356" width="19" height="8" rx="3"/><text class="y" x="536.5" y="362">INT0</text>

<rect class="g" x="469" y="370" width="14" height="8" rx="3"/><text class="g" x="476" y="376">3</text>
<rect class="p" x="484" y="370" width="13" height="8" rx="3"/><text class="p" x="490.5" y="376">PD1</text>
<rect class="s" x="498" y="370" width="14" height="8" rx="3"/><text class="s" x="505" y="376">TXD</text>
<rect class="i" x="513" y="370" width="28" height="8" rx="3"/><text class="i" x="527" y="376">PCINT17</text>

<rect class="g" x="469" y="384" width="14" height="8" rx="3"/><text class="g" x="476" y="390">2</text>
<rect class="p" x="484" y="384" width="13" height="8" rx="3"/><text class="p" x="490.5" y="390">PD0</text>
<rect class="t" x="498" y="384" width="14" height="8" rx="3"/><text class="t" x="505" y="390">RXD</text>
<rect class="i" x="513" y="384" width="28" height="8" rx="3"/><text class="i" x="527" y="390">PCINT16</text>
</g>

<!-- ICSP detail -->
<rect x="288" y="461" width="42" height="30" rx="4" fill="#f0f0f0"/>
<use href="#spin" x="295" y="469"/><use href="#spin" x="308" y="469"/><use href="#spin" x="322" y="469"/>
<use href="#spin" x="295" y="483"/><use href="#spin" x="308" y="483"/><use href="#spin" x="322" y="483"/>
<text transform="translate(279,476) rotate(90)" font-family="Liberation Sans,sans-serif" font-size="9" fill="#3a4a7a" text-anchor="middle">ICSP</text>
<text transform="translate(331,461) rotate(90)" font-family="Liberation Sans,sans-serif" font-size="7" fill="#3a4a7a">1</text>
<g class="ln">
<path d="M272,446H308V461" marker-end="url(#ar)"/>
<path d="M272,458H295V462" marker-end="url(#ar)"/>
<path d="M345,458H322V462" marker-end="url(#ar)"/>
<path d="M273,494H295V490" marker-end="url(#ar)"/>
<path d="M345,494H322V490" marker-end="url(#ar)"/>
<path d="M345,516H308V490" marker-end="url(#ar)"/>
</g>
<g class="P">
<rect class="s" x="203" y="442" width="14" height="8" rx="3"/><text class="s" x="210" y="448">SCK</text>
<rect class="i" x="218" y="442" width="25" height="8" rx="3"/><text class="i" x="230.5" y="448">PCINT5</text>
<rect class="p" x="244" y="442" width="13" height="8" rx="3"/><text class="p" x="250.5" y="448">PB5</text>
<rect class="g" x="258" y="442" width="14" height="8" rx="3"/><text class="g" x="265" y="448">19</text>

<rect class="i" x="192" y="454" width="28" height="8" rx="3"/><text class="i" x="206" y="460">PCINT14</text>
<rect class="b" x="221" y="454" width="23" height="8" rx="3"/><text class="b" x="232.5" y="460">RESET</text>
<rect class="p" x="245" y="454" width="13" height="8" rx="3"/><text class="p" x="251.5" y="460">PC6</text>
<rect class="g" x="259" y="454" width="13" height="8" rx="3"/><text class="g" x="265.5" y="460">1</text>

<rect class="g" x="345" y="454" width="13" height="8" rx="3"/><text class="g" x="351.5" y="460">18</text>
<rect class="p" x="359" y="454" width="13" height="8" rx="3"/><text class="p" x="365.5" y="460">PB4</text>
<rect class="i" x="373" y="454" width="25" height="8" rx="3"/><text class="i" x="385.5" y="460">PCINT4</text>
<rect class="s" x="399" y="454" width="19" height="8" rx="3"/><text class="s" x="408.5" y="460">MISO</text>

<rect class="k" x="258" y="490" width="15" height="8" rx="3"/><text class="k" x="265.5" y="496">GND</text>
<rect class="r" x="345" y="490" width="13" height="8" rx="3"/><text class="r" x="351.5" y="496">5V</text>

<rect class="g" x="345" y="512" width="13" height="8" rx="3"/><text class="g" x="351.5" y="518">17</text>
<rect class="p" x="359" y="512" width="13" height="8" rx="3"/><text class="p" x="365.5" y="518">PB3</text>
<rect class="f" x="373" y="512" width="19" height="8" rx="3"/><text class="f" x="382.5" y="518">OC2A</text>
<rect class="i" x="393" y="512" width="26" height="8" rx="3"/><text class="i" x="406" y="518">PCINT3</text>
<rect class="s" x="420" y="512" width="19" height="8" rx="3"/><text class="s" x="429.5" y="518">MOSI</text>
</g>

<!-- ESP detail -->
<rect x="289" y="567" width="56" height="42" rx="4" fill="#f0f0f0"/>
<g class="ln">
<path d="M274,552H310V567" marker-end="url(#ar)"/>
<path d="M274,564H296V567" marker-end="url(#ar)"/>
<path d="M274,578H310V581" marker-end="url(#ar)"/>
<path d="M274,588H289" marker-end="url(#ar)"/>
<path d="M274,615H296V609" marker-end="url(#ar)"/>
<path d="M274,626H310V609" marker-end="url(#ar)"/>
<path d="M362,552H324V567" marker-end="url(#ar)"/>
<path d="M362,564H338V567" marker-end="url(#ar)"/>
<path d="M362,578H324V581" marker-end="url(#ar)"/>
<path d="M362,588H345" marker-end="url(#ar)"/>
<path d="M362,615H338V609" marker-end="url(#ar)"/>
<path d="M362,626H324V609" marker-end="url(#ar)"/>
</g>
<use href="#spin" x="296" y="574"/><use href="#spin" x="310" y="574"/><use href="#spin" x="324" y="574"/><use href="#spin" x="338" y="574"/>
<use href="#spin" x="296" y="588"/><use href="#spin" x="310" y="588"/><use href="#spin" x="324" y="588"/><use href="#spin" x="338" y="588"/>
<use href="#spin" x="296" y="602"/><use href="#spin" x="310" y="602"/><use href="#spin" x="324" y="602"/><use href="#spin" x="338" y="602"/>
<text x="316" y="567" font-family="Liberation Sans,sans-serif" font-size="10" fill="#5a6a9a" text-anchor="middle">ESP Pin's</text>
<g class="P">
<rect class="p" x="252" y="548" width="22" height="8" rx="3"/><text class="p" x="263" y="554">CH_PD</text>
<rect class="b" x="252" y="560" width="22" height="8" rx="3"/><text class="b" x="263" y="566">RESET</text>
<rect class="p" x="249" y="574" width="25" height="8" rx="3"/><text class="p" x="261.5" y="580">GPIO16</text>
<rect class="r" x="254" y="584" width="20" height="8" rx="3"/><text class="r" x="264" y="590">+3.3V</text>
<rect class="p" x="255" y="611" width="19" height="8" rx="3"/><text class="p" x="264.5" y="617">TOUT</text>
<rect class="s" x="260" y="622" width="14" height="8" rx="3"/><text class="s" x="267" y="628">RXD</text>
<rect class="p" x="362" y="548" width="21" height="8" rx="3"/><text class="p" x="372.5" y="554">GPIO2</text>
<rect class="p" x="362" y="560" width="21" height="8" rx="3"/><text class="p" x="372.5" y="566">GPIO4</text>
<rect class="p" x="362" y="574" width="25" height="8" rx="3"/><text class="p" x="374.5" y="580">GPIO12</text>
<rect class="s" x="362" y="584" width="15" height="8" rx="3"/><text class="s" x="369.5" y="590">TXD</text>
<rect class="k" x="362" y="611" width="15" height="8" rx="3"/><text class="k" x="369.5" y="617">GND</text>
<rect class="p" x="362" y="622" width="23" height="8" rx="3"/><text class="p" x="373.5" y="628">GPIO0</text>
</g>

<!-- legend -->
<line x1="533" y1="465" x2="546" y2="465" stroke="#666" stroke-width=".8" stroke-dasharray="2 1.3"/>
<text x="549" y="467.5" class="leg">PWM-Wire</text>
<g class="P">
<rect class="r" x="533" y="477" width="14" height="8" rx="3"/>
<rect class="b" x="533" y="493" width="14" height="8" rx="3"/>
<rect class="k" x="533" y="509" width="14" height="8" rx="3"/>
<rect class="a" x="533" y="525" width="14" height="8" rx="3"/>
<rect class="g" x="533" y="542" width="14" height="8" rx="3"/>
<rect class="p" x="533" y="558" width="14" height="8" rx="3"/>
<rect class="s" x="533" y="574" width="14" height="8" rx="3"/>
<rect class="y" x="533" y="590" width="14" height="8" rx="3"/>
<rect class="f" x="533" y="606" width="14" height="8" rx="3"/>
<rect class="i" x="533" y="622" width="14" height="8" rx="3"/>
</g>
<g class="leg">
<text x="550" y="483.5">Power</text>
<text x="550" y="499.5">Control</text>
<text x="550" y="515.5">GND</text>
<text x="550" y="531.5">Analog Pin</text>
<text x="550" y="548.5">Physical Pin</text>
<text x="550" y="564.5">Port Pin</text>
<text x="550" y="580.5">Serial Pin</text>
<text x="550" y="596.5">Interrupt Pin</text>
<text x="550" y="612.5">Pin function</text>
<text x="550" y="628.5">INT</text>
</g>
</svg>
</body></html>
